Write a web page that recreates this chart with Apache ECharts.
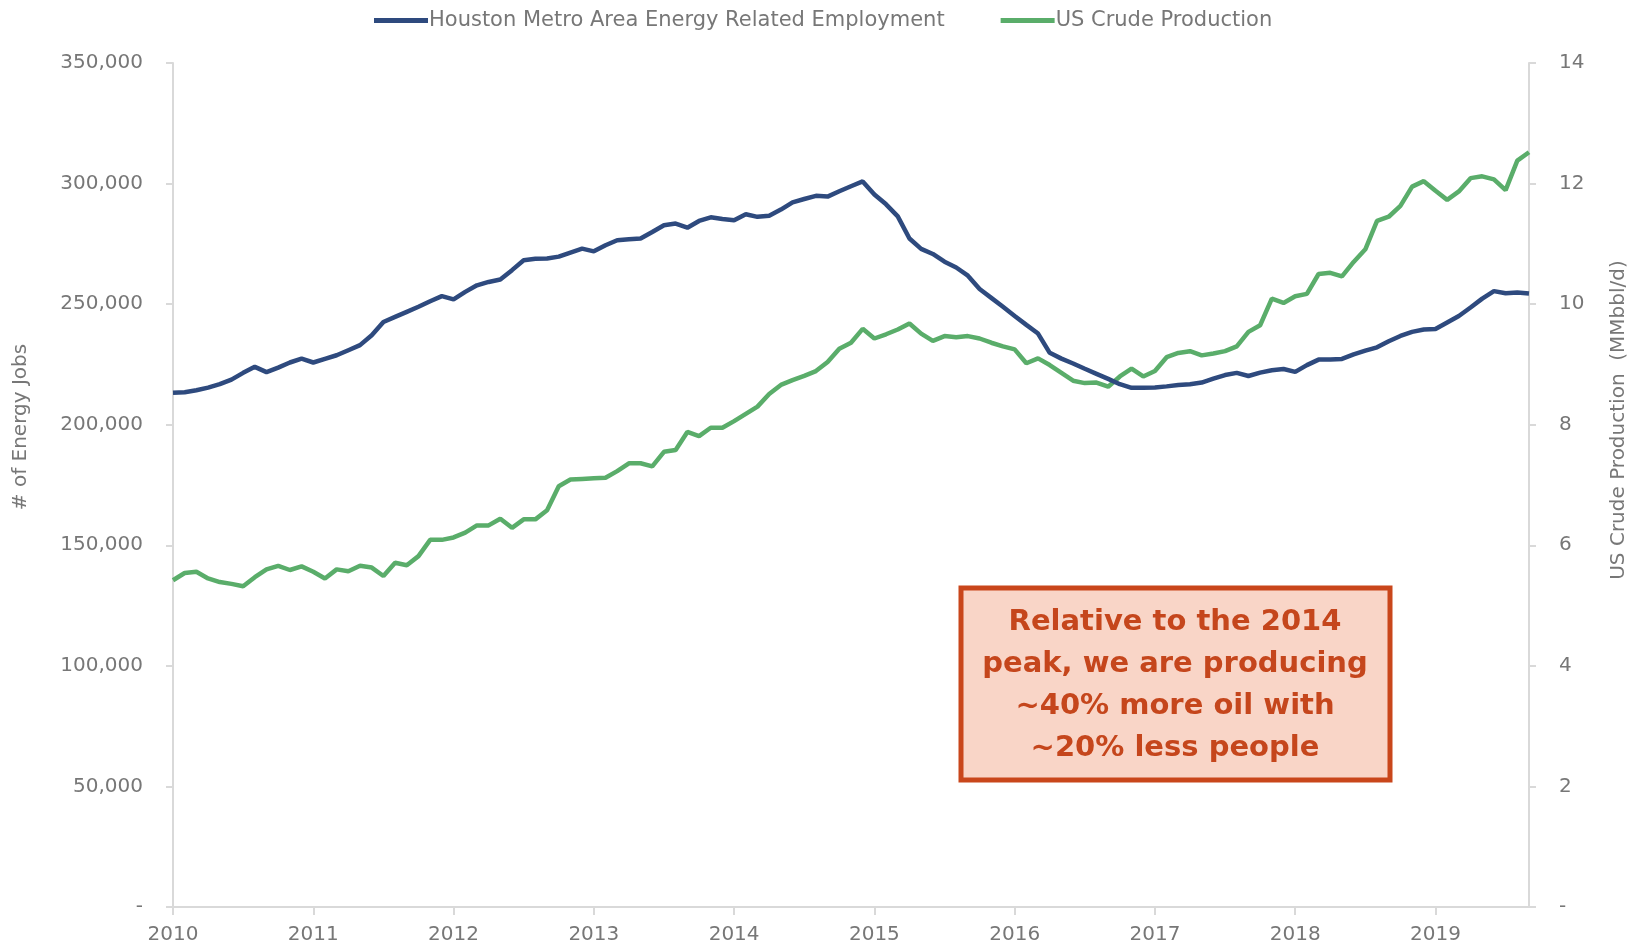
<!DOCTYPE html>
<html>
<head>
<meta charset="utf-8">
<title>Houston energy jobs vs US crude production</title>
<script src="https://cdn.jsdelivr.net/npm/echarts@6/dist/echarts.min.js"></script>
<style>
  html, body { margin: 0; padding: 0; background: #fff; }
  #chart { width: 1631px; height: 951px; }
</style>
</head>
<body>
<div id="chart"></div>
<script>
// tick labels on the year axis, one category per month Jan 2010 .. Sep 2019
const years = ['2010', '2011', '2012', '2013', '2014', '2015', '2016', '2017', '2018', '2019']
const monthCount = 117

// Houston metro energy related employment (jobs)
const houstonJobs = [
  213300, 213500, 214300, 215400, 216800, 218700, 221500, 224000, 221800, 223700,
  225800, 227400, 225800, 227300, 228800, 230900, 233000, 237100, 242600, 244700,
  246800, 248900, 251200, 253300, 252000, 255100, 257800, 259200, 260200, 264100,
  268200, 268800, 268900, 269700, 271400, 273000, 271900, 274400, 276500, 276900,
  277200, 279900, 282700, 283400, 281700, 284500, 286000, 285300, 284800, 287300,
  286200, 286700, 289200, 292200, 293600, 294900, 294600, 296800, 298900, 300900,
  295500, 291400, 286400, 277200, 272900, 270800, 267600, 265200, 261800, 256300,
  252600, 248900, 245100, 241400, 237800, 229800, 227400, 225400, 223200, 221100,
  219000, 216800, 215300, 215300, 215400, 215900, 216500, 216800, 217500, 219100,
  220600, 221500, 220200, 221600, 222600, 223100, 221900, 224700, 227000, 227000,
  227300, 229200, 230700, 232100, 234600, 236800, 238500, 239500, 239700, 242400,
  245100, 248600, 252300, 255400, 254500, 254800, 254400
]

// US crude production (MMbbl/d)
const usCrude = [
  5.42, 5.54, 5.56, 5.45, 5.39, 5.36, 5.32, 5.47, 5.60, 5.66,
  5.59, 5.65, 5.56, 5.45, 5.60, 5.57, 5.66, 5.63, 5.49, 5.71,
  5.67, 5.82, 6.09, 6.09, 6.13, 6.21, 6.33, 6.33, 6.44, 6.29,
  6.43, 6.43, 6.58, 6.98, 7.09, 7.10, 7.11, 7.12, 7.23, 7.36,
  7.36, 7.31, 7.55, 7.58, 7.88, 7.81, 7.95, 7.95, 8.06, 8.18,
  8.30, 8.51, 8.66, 8.74, 8.81, 8.89, 9.04, 9.26, 9.36, 9.59,
  9.43, 9.50, 9.58, 9.68, 9.51, 9.39, 9.47, 9.45, 9.47, 9.43,
  9.36, 9.30, 9.25, 9.02, 9.10, 8.99, 8.86, 8.73, 8.69, 8.70,
  8.63, 8.80, 8.93, 8.80, 8.89, 9.12, 9.19, 9.22, 9.15, 9.18,
  9.22, 9.30, 9.54, 9.65, 10.09, 10.02, 10.13, 10.17, 10.50, 10.52,
  10.46, 10.70, 10.91, 11.38, 11.45, 11.63, 11.95, 12.04, 11.88, 11.73,
  11.87, 12.09, 12.12, 12.07, 11.89, 12.38, 12.52
]

const months = []
for (let i = 0; i < monthCount; i++) {
  months.push(years[Math.floor(i / 12)] + '-' + String(i % 12 + 1).padStart(2, '0'))
}

const FONT = '"DejaVu Sans", Verdana, sans-serif'
const GREY = '#777777'
const AXIS_LINE = '#d9d9d9'
const BLUE = '#2e4a7e'
const GREEN = '#5aad6a'

const myChart = echarts.init(document.getElementById('chart'))
const option = {
  animation: false,
  backgroundColor: '#fff',
  legend: {
    left: 369,
    top: 5,
    itemWidth: 54,
    itemHeight: 5,
    itemGap: 56,
    icon: 'rect',
    textStyle: { fontFamily: FONT, fontSize: 21, color: GREY, padding: [0, 0, 0, -4] },
    data: ['Houston Metro Area Energy Related Employment', 'US Crude Production']
  },
  grid: { left: 173, right: 102, top: 63, bottom: 44, containLabel: false },
  xAxis: {
    type: 'category',
    data: months,
    boundaryGap: false,
    axisLine: { lineStyle: { color: AXIS_LINE, width: 2 } },
    axisTick: {
      length: 8,
      lineStyle: { color: AXIS_LINE, width: 2 },
      interval: function (index) { return index % 12 === 0 }
    },
    axisLabel: {
      interval: function (index) { return index % 12 === 0 },
      formatter: function (value) { return value.slice(0, 4) },
      fontFamily: FONT,
      fontSize: 20,
      color: GREY,
      margin: 18
    },
    splitLine: { show: false }
  },
  yAxis: [
    {
      type: 'value',
      min: 0,
      max: 350000,
      interval: 50000,
      axisLine: { show: true, lineStyle: { color: AXIS_LINE, width: 2 } },
      axisTick: { show: true, length: 7, lineStyle: { color: AXIS_LINE, width: 2 } },
      axisLabel: {
        fontFamily: FONT,
        fontSize: 20,
        color: GREY,
        margin: 30,
        formatter: function (v) { return v === 0 ? '-' : v.toLocaleString('en-US') }
      },
      splitLine: { show: false }
    },
    {
      type: 'value',
      min: 0,
      max: 14,
      interval: 2,
      position: 'right',
      axisLine: { show: true, lineStyle: { color: AXIS_LINE, width: 2 } },
      axisTick: { show: true, length: 7, lineStyle: { color: AXIS_LINE, width: 2 } },
      axisLabel: {
        fontFamily: FONT,
        fontSize: 20,
        color: GREY,
        margin: 30,
        formatter: function (v) { return v === 0 ? '-' : String(v) }
      },
      splitLine: { show: false }
    }
  ],
  series: [
    {
      name: 'Houston Metro Area Energy Related Employment',
      type: 'line',
      yAxisIndex: 0,
      data: houstonJobs,
      showSymbol: false,
      color: BLUE,
      lineStyle: { color: BLUE, width: 4.5 },
      z: 3
    },
    {
      name: 'US Crude Production',
      type: 'line',
      yAxisIndex: 1,
      data: usCrude,
      showSymbol: false,
      color: GREEN,
      lineStyle: { color: GREEN, width: 4.5 },
      z: 2
    }
  ],
  graphic: [
    {
      type: 'text',
      x: 21,
      y: 427,
      rotation: Math.PI / 2,
      style: {
        text: '# of Energy Jobs',
        fontFamily: FONT,
        fontSize: 20,
        fill: GREY,
        align: 'center',
        verticalAlign: 'middle'
      }
    },
    {
      type: 'text',
      x: 1619,
      y: 420,
      rotation: Math.PI / 2,
      style: {
        text: 'US Crude Production  (MMbbl/d)',
        fontFamily: FONT,
        fontSize: 20,
        fill: GREY,
        align: 'center',
        verticalAlign: 'middle'
      }
    },
    // callout box
    {
      type: 'rect',
      shape: { x: 961, y: 588, width: 429, height: 192 },
      style: { fill: '#f9d5c7', stroke: '#c9461b', lineWidth: 5 },
      z: 10
    },
    {
      type: 'text',
      x: 1175,
      y: 685,
      style: {
        text: 'Relative to the 2014\npeak, we are producing\n~40% more oil with\n~20% less people',
        fontFamily: FONT,
        fontWeight: 'bold',
        fontSize: 29,
        lineHeight: 42,
        fill: '#c5461c',
        align: 'center',
        verticalAlign: 'middle'
      },
      z: 11
    }
  ]
}
myChart.setOption(option)
</script>
</body>
</html>
